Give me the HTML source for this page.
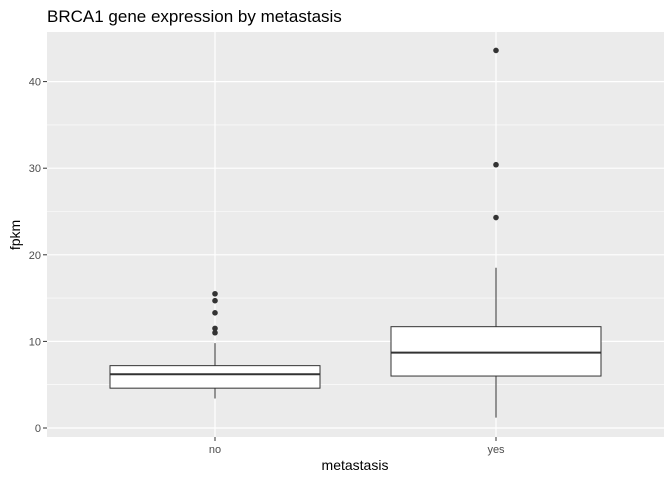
<!DOCTYPE html>
<html><head><meta charset="utf-8"><style>
body{margin:0;background:#fff;font-family:"Liberation Sans",sans-serif}
</style></head><body>
<svg width="672" height="480" xmlns="http://www.w3.org/2000/svg">
<text x="47" y="22" font-size="17" fill="#000">BRCA1 gene expression by metastasis</text>
<rect x="47" y="32" width="617" height="405" fill="#ebebeb"/>
<g id="grid"></g>
<g id="marks"></g>
<g id="axes"></g>
<text x="355" y="470" font-size="14" text-anchor="middle">metastasis</text>
<text x="0" y="0" font-size="14" text-anchor="middle" transform="translate(20,235) rotate(-90)">fpkm</text>
</svg>
<script>
const categories=["no","yes"];
const lowerWhisker=[3.4,1.2];
const q1=[4.6,6.0];
const median=[6.2,8.7];
const q3=[7.2,11.7];
const upperWhisker=[9.8,18.5];
const outliers=[[11.0,11.5,13.3,14.7,15.5],[24.3,30.4,43.6]];
const yTicks=[0,10,20,30,40];
const NS="http://www.w3.org/2000/svg";
const y=v=>428-v*8.66;
const xc=i=>215+i*281;
const halfW=105;
function mk(tag,attrs,parent){const e=document.createElementNS(NS,tag);for(const k in attrs)e.setAttribute(k,attrs[k]);parent.appendChild(e);return e;}
const grid=document.getElementById('grid'),marks=document.getElementById('marks'),axes=document.getElementById('axes');
for(let i=0;i<yTicks.length-1;i++){const v=(yTicks[i]+yTicks[i+1])/2;
 const l=mk('line',{x1:47,x2:664,y1:y(v),y2:y(v),stroke:'#fff','stroke-width':0.6},grid);
 
 }
yTicks.forEach(t=>{
 const l=mk('line',{x1:47,x2:664,y1:y(t),y2:y(t),stroke:'#fff','stroke-width':1.2},grid);
 
 
 const tk=mk('line',{x1:43,x2:47,y1:y(t),y2:y(t),stroke:'#333'},axes);
 
 
 const tx=mk('text',{x:41,y:y(t)+4,'font-size':11,fill:'#4d4d4d','text-anchor':'end'},axes);
 tx.textContent=t;
 
 
});
categories.forEach((c,i)=>{
 const x=xc(i);
 const g=mk('line',{x1:x,x2:x,y1:32,y2:437,stroke:'#fff','stroke-width':1.2},grid);
 
 
 const grp=mk('g',{},marks);
 
 
 mk('line',{x1:x,x2:x,y1:y(lowerWhisker[i]),y2:y(q1[i]),stroke:'#333'},grp);
 mk('line',{x1:x,x2:x,y1:y(q3[i]),y2:y(upperWhisker[i]),stroke:'#333'},grp);
 mk('rect',{x:x-halfW,y:y(q3[i]),width:2*halfW,height:y(q1[i])-y(q3[i]),fill:'#fff',stroke:'#333'},grp);
 mk('line',{x1:x-halfW,x2:x+halfW,y1:y(median[i]),y2:y(median[i]),stroke:'#333','stroke-width':2},grp);
 outliers[i].forEach(v=>{const p=mk('circle',{cx:x,cy:y(v),r:2.8,fill:'#333'},grp);
  
  });
 const tk=mk('line',{x1:x,x2:x,y1:437,y2:441,stroke:'#333'},axes);
 
 
 const tx=mk('text',{x:x,y:453,'font-size':11,fill:'#4d4d4d','text-anchor':'middle'},axes);
 tx.textContent=c;
 
 
});
</script>
</body></html>
